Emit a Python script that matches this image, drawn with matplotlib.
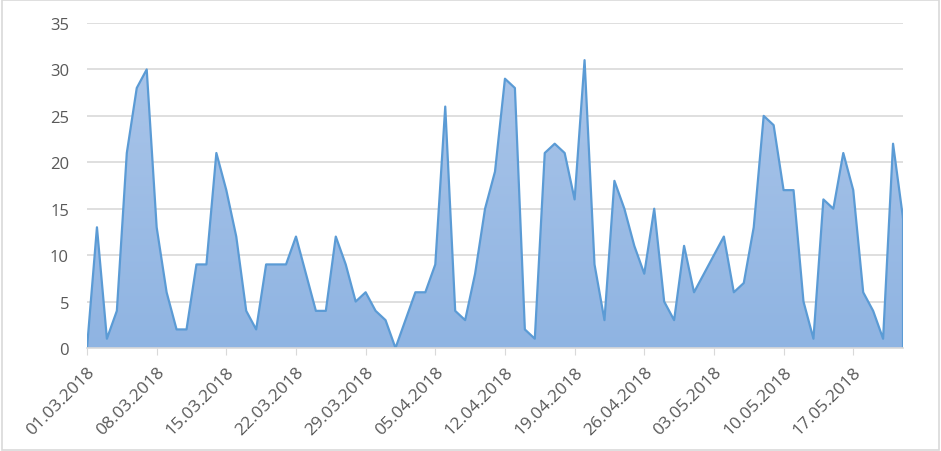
import numpy as np
import pandas as pd
import matplotlib
matplotlib.use("Agg")
import matplotlib.pyplot as plt
from matplotlib.patches import Rectangle
from matplotlib.colors import LinearSegmentedColormap

# daily counts, 01.03.2018 - 22.05.2018
values = [0, 13, 1, 4, 21, 28, 30, 13, 6, 2, 2, 9, 9, 21, 17, 12, 4, 2, 9, 9,
          9, 12, 8, 4, 4, 12, 9, 5, 6, 4, 3, 0, 3, 6, 6, 9, 26, 4, 3, 8,
          15, 19, 29, 28, 2, 1, 21, 22, 21, 16, 31, 9, 3, 18, 15, 11, 8, 15, 5, 3,
          11, 6, 8, 10, 12, 6, 7, 13, 25, 24, 17, 17, 5, 1, 16, 15, 21, 17, 6, 4,
          1, 22, 14]
dates = pd.date_range("2018-03-01", periods=len(values), freq="D")
tick_idx = list(range(0, len(values), 7))
tick_labels = [d.strftime("%d.%m.%Y") for d in dates[tick_idx]]
y_ticks = [0, 5, 10, 15, 20, 25, 30, 35]

plt.rcParams['font.family'] = ['Open Sans', 'DejaVu Sans']
grey_text = "#595959"
grid_col = "#d9d9d9"
line_col = "#5b9bd5"

fig = plt.figure(figsize=(9.41, 4.52), dpi=100)
ax = fig.add_axes([87 / 941, 103 / 452, 816 / 941, 325 / 452])

x = np.arange(len(values))
y = np.array(values, dtype=float)

# gradient fill clipped to the area polygon
poly = ax.fill_between(x, 0, y, color="none", lw=0)
cmap = LinearSegmentedColormap.from_list("fillgrad", ["#8fb4e2", "#adc7ea"])
grad = np.linspace(0, 1, 256).reshape(-1, 1)
img = ax.imshow(grad, cmap=cmap, aspect="auto", origin="lower",
                extent=[0, len(values) - 1, 0, 35], zorder=1)
img.set_clip_path(poly.get_paths()[0], transform=ax.transData)
ax.plot(x, y, color=line_col, lw=1.6, zorder=3)
ax.plot([x[-1], x[-1]], [0, y[-1]], color=line_col, lw=1.6, zorder=3)

ax.set_xlim(0, len(values) - 1)
ax.set_ylim(0, 35)
ax.set_yticks(y_ticks)
ax.yaxis.grid(True, color=grid_col, lw=1.2)
ax.set_axisbelow(True)
ax.set_xticks(tick_idx)
ax.set_xticklabels(tick_labels, rotation=45, ha="right", rotation_mode="anchor")

ax.tick_params(axis="y", length=0, labelsize=12, labelcolor=grey_text, pad=13)
ax.tick_params(axis="x", length=5, color=grid_col, labelsize=12.5,
               labelcolor=grey_text, pad=6)
for side in ["left", "right", "top"]:
    ax.spines[side].set_visible(False)
ax.spines["bottom"].set_color(grid_col)
ax.spines["bottom"].set_linewidth(1.2)
ax.spines["bottom"].set_zorder(4)

# chart border
fig.patches.append(Rectangle((0.002, 0.003), 0.996, 0.994, transform=fig.transFigure,
                             fill=False, edgecolor=grid_col, lw=1.2))

fig.savefig("out.png", dpi=100)
